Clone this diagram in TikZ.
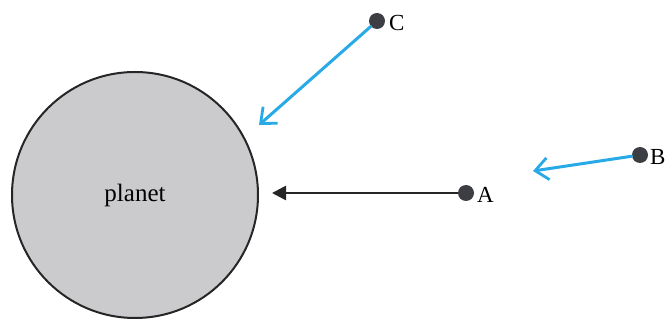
\documentclass[tikz,border=0pt]{standalone}
\usepackage{fontspec}
\setmainfont{Liberation Serif}
\usetikzlibrary{arrows.meta}
\definecolor{planetgray}{RGB}{203,203,206}
\definecolor{dotgray}{RGB}{60,62,68}
\definecolor{penblue}{RGB}{40,170,230}
\tikzset{
  dotnode/.style={circle,fill=dotgray,minimum size=16pt,inner sep=0pt},
  lbl/.style={anchor=west,inner sep=0pt,font=\fontsize{23}{25}\selectfont},
  bluearrow/.style={draw=penblue,line width=3pt,line cap=round,-{Straight Barb[length=13pt,width=22pt,line width=2.8pt]}},
  blackarrow/.style={draw=black!85,line width=2.6pt,-{Triangle[length=14pt,width=14pt]}}
}
\begin{document}
\begin{tikzpicture}[x=1pt,y=-1pt]
\useasboundingbox (0,0) rectangle (665,320);
\node[circle,draw=black!85,line width=2pt,fill=planetgray,minimum size=246pt,inner sep=0pt] (planet) at (135,195) {};
\node[font=\fontsize{25}{27}\selectfont] (ptext) at (135,195) {planet};
\node[dotnode] (A) at (466,193) {};
\node[lbl] (Alab) at (477,195) {A};
\node[dotnode] (B) at (640,155) {};
\node[lbl] (Blab) at (650,157) {B};
\node[dotnode] (C) at (377,21) {};
\node[lbl] (Clab) at (389,23) {C};
\coordinate (tipA) at (272,193);
\coordinate (tipB) at (533,171);
\coordinate (tipC) at (259,125);
\draw[blackarrow] (A) -- (tipA);
\draw[bluearrow] (B) -- (tipB);
\draw[bluearrow] (C) -- (tipC);
\end{tikzpicture}
\end{document}
